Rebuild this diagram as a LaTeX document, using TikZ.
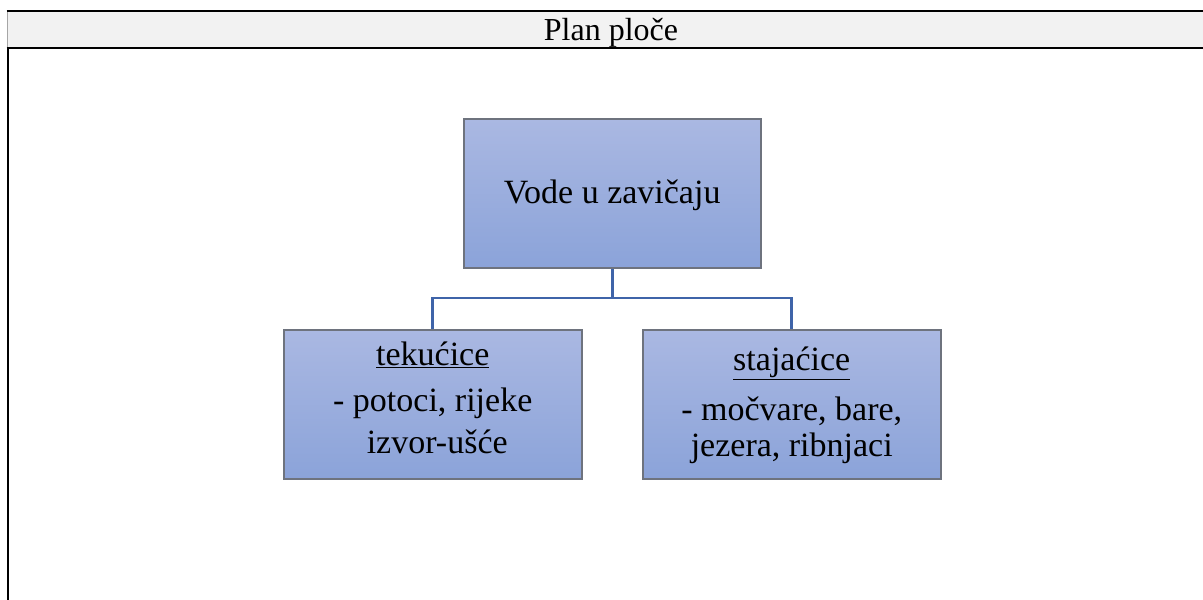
\documentclass[tikz,border=0pt]{standalone}
\usepackage{fontspec}
\setmainfont{Liberation Serif}
\definecolor{boxtop}{HTML}{AAB8E2}
\definecolor{boxbot}{HTML}{8BA3D9}
\definecolor{boxline}{HTML}{6E737E}
\definecolor{conn}{HTML}{3F64A9}
\definecolor{hdrfill}{HTML}{F2F2F2}
\begin{document}
\begin{tikzpicture}[x=1pt,y=-1pt,
  boxnode/.style={draw=boxline, line width=1.5pt, top color=boxtop, bottom color=boxbot,
    minimum height=149pt, inner sep=0pt, align=center,
    font=\fontsize{34}{44}\selectfont, anchor=north west},
  conline/.style={draw=conn, line width=2.8pt},
  frameline/.style={line width=2.6pt, black}]
\useasboundingbox (0,0) rectangle (1203,600);
\fill[white] (0,0) rectangle (1203,600);
% table header
\fill[hdrfill] (8,11) rectangle (1203,48);
\draw[frameline] (6.7,11) -- (1203,11);
\draw[frameline] (6.7,48) -- (1203,48);
\draw[line width=1.2pt, gray!70] (7.5,12) -- (7.5,47);
\draw[frameline] (8,48) -- (8,600);
\node[anchor=base, font=\fontsize{32}{38}\selectfont] (title) at (611,40) {Plan ploče};
% boxes
\node[boxnode, minimum width=297pt, text height=25pt, text depth=4pt] (top) at (463,118)
  {Vode u zavičaju};
\node[boxnode, minimum width=298pt, text height=110pt, text depth=11pt] (left) at (283,329)
  {\underline{tekućice}\\[2pt] - potoci, rijeke\\[-2pt] \hspace*{9pt}izvor-ušće};
\node[boxnode, minimum width=298pt, text height=110pt, text depth=5pt] (right) at (642,329)
  {\underline{stajaćice}\\[6pt] - močvare, bare,\\[-8pt] jezera, ribnjaci};
% connectors
\coordinate (j) at (612,298);
\draw[conline] (top.south) -- (top.south |- j) -| (left.north);
\draw[conline] (top.south |- j) -| (right.north);
\end{tikzpicture}
\end{document}
